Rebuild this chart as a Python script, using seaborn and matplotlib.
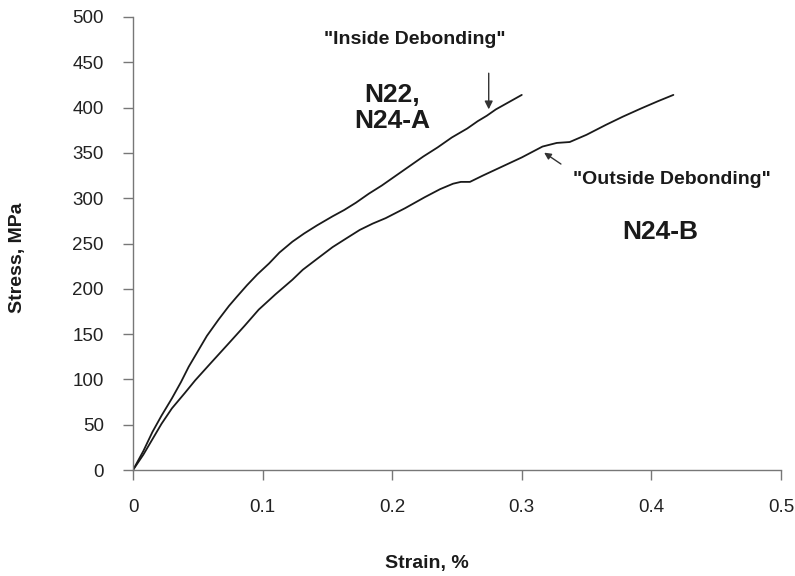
import matplotlib
matplotlib.use("Agg")
import matplotlib.pyplot as plt
import seaborn as sns
import pandas as pd

# Upper curve: N22, N24-A
strain_a = [0, 0.008, 0.015, 0.022, 0.030, 0.037, 0.043, 0.050, 0.057, 0.066, 0.074, 0.080,
            0.088, 0.096, 0.105, 0.113, 0.123, 0.132, 0.142, 0.154, 0.163, 0.172, 0.182,
            0.192, 0.200, 0.212, 0.224, 0.235, 0.246, 0.258, 0.266, 0.273, 0.280, 0.290, 0.300]
stress_a = [0, 21, 42, 60, 79, 97, 114, 131, 148, 166, 181, 191,
            204, 216, 228, 240, 252, 261, 270, 280, 287, 295, 305,
            314, 322, 334, 346, 356, 367, 377, 385, 391, 398, 406, 414]

# Lower curve: N24-B
strain_b = [0, 0.008, 0.015, 0.022, 0.030, 0.040, 0.048, 0.060, 0.074, 0.086, 0.097, 0.110,
            0.123, 0.131, 0.142, 0.154, 0.165, 0.175, 0.185, 0.195, 0.210, 0.225, 0.237,
            0.247, 0.253, 0.260, 0.270, 0.285, 0.300, 0.316, 0.327, 0.337, 0.350, 0.365,
            0.378, 0.392, 0.405, 0.417]
stress_b = [0, 17, 34, 51, 68, 85, 99, 118, 140, 159, 177, 194,
            210, 221, 233, 246, 256, 265, 272, 278, 289, 301, 310,
            316, 318, 318, 325, 335, 345, 357, 361, 362, 370, 381,
            390, 399, 407, 414]

x_ticks = [0, 0.1, 0.2, 0.3, 0.4, 0.5]
x_tick_labels = ["0", "0.1", "0.2", "0.3", "0.4", "0.5"]
y_ticks = [0, 50, 100, 150, 200, 250, 300, 350, 400, 450, 500]

df = pd.concat([
    pd.DataFrame({"strain": strain_a, "stress": stress_a, "spec": "N22, N24-A"}),
    pd.DataFrame({"strain": strain_b, "stress": stress_b, "spec": "N24-B"}),
])

sns.set_style("ticks")
plt.rcParams["font.family"] = ["Liberation Sans", "DejaVu Sans"]

fig = plt.figure(figsize=(7.95, 5.76), dpi=100)
ax = fig.add_axes([0.1673, 0.184, 0.815, 0.7865])

sns.lineplot(data=df, x="strain", y="stress", units="spec", estimator=None, sort=False,
             color="#1a1a1a", linewidth=1.3, ax=ax, legend=False)

ax.set_xlim(0, 0.5)
ax.set_ylim(0, 500)
ax.set_xticks(x_ticks)
ax.set_xticklabels(x_tick_labels)
ax.set_yticks(y_ticks)
for s in ["top", "right"]:
    ax.spines[s].set_visible(False)
for s in ["left", "bottom"]:
    ax.spines[s].set_color("#777777")
    ax.spines[s].set_linewidth(1.0)
ax.tick_params(axis="both", colors="#777777", labelcolor="#222222", labelsize=13.5,
               length=7, width=1.0, direction="out")
ax.tick_params(axis="x", pad=14)
ax.tick_params(axis="y", pad=14)

ax.set_xlabel("")
ax.set_ylabel("")
fig.text(0.5365, 0.021, "Strain, %", fontsize=14, fontweight="bold", ha="center", va="center",
         color="#1a1a1a")
fig.text(0.022, 0.552, "Stress, MPa", fontsize=14, fontweight="bold", ha="center", va="center",
         rotation=90, color="#1a1a1a")

ax.text(0.1998, 400, "N22,\nN24-A", fontsize=19, fontweight="bold", ha="center", va="center",
        color="#1a1a1a", linespacing=1.1)
ax.text(0.4065, 263, "N24-B", fontsize=19, fontweight="bold", ha="center", va="center",
        color="#1a1a1a")
ax.text(0.2172, 475, "\"Inside Debonding\"", fontsize=14, fontweight="bold", ha="center",
        va="center", color="#1a1a1a")
ax.text(0.416, 321, "\"Outside Debonding\"", fontsize=14, fontweight="bold", ha="center",
        va="center", color="#1a1a1a")

ax.annotate("", xy=(0.2745, 395), xytext=(0.2745, 441),
            arrowprops=dict(arrowstyle="-|>", color="#333333", lw=1.0, mutation_scale=12))
ax.annotate("", xy=(0.3155, 352), xytext=(0.332, 336),
            arrowprops=dict(arrowstyle="-|>", color="#333333", lw=1.0, mutation_scale=10))

fig.savefig("out.png", dpi=100)
